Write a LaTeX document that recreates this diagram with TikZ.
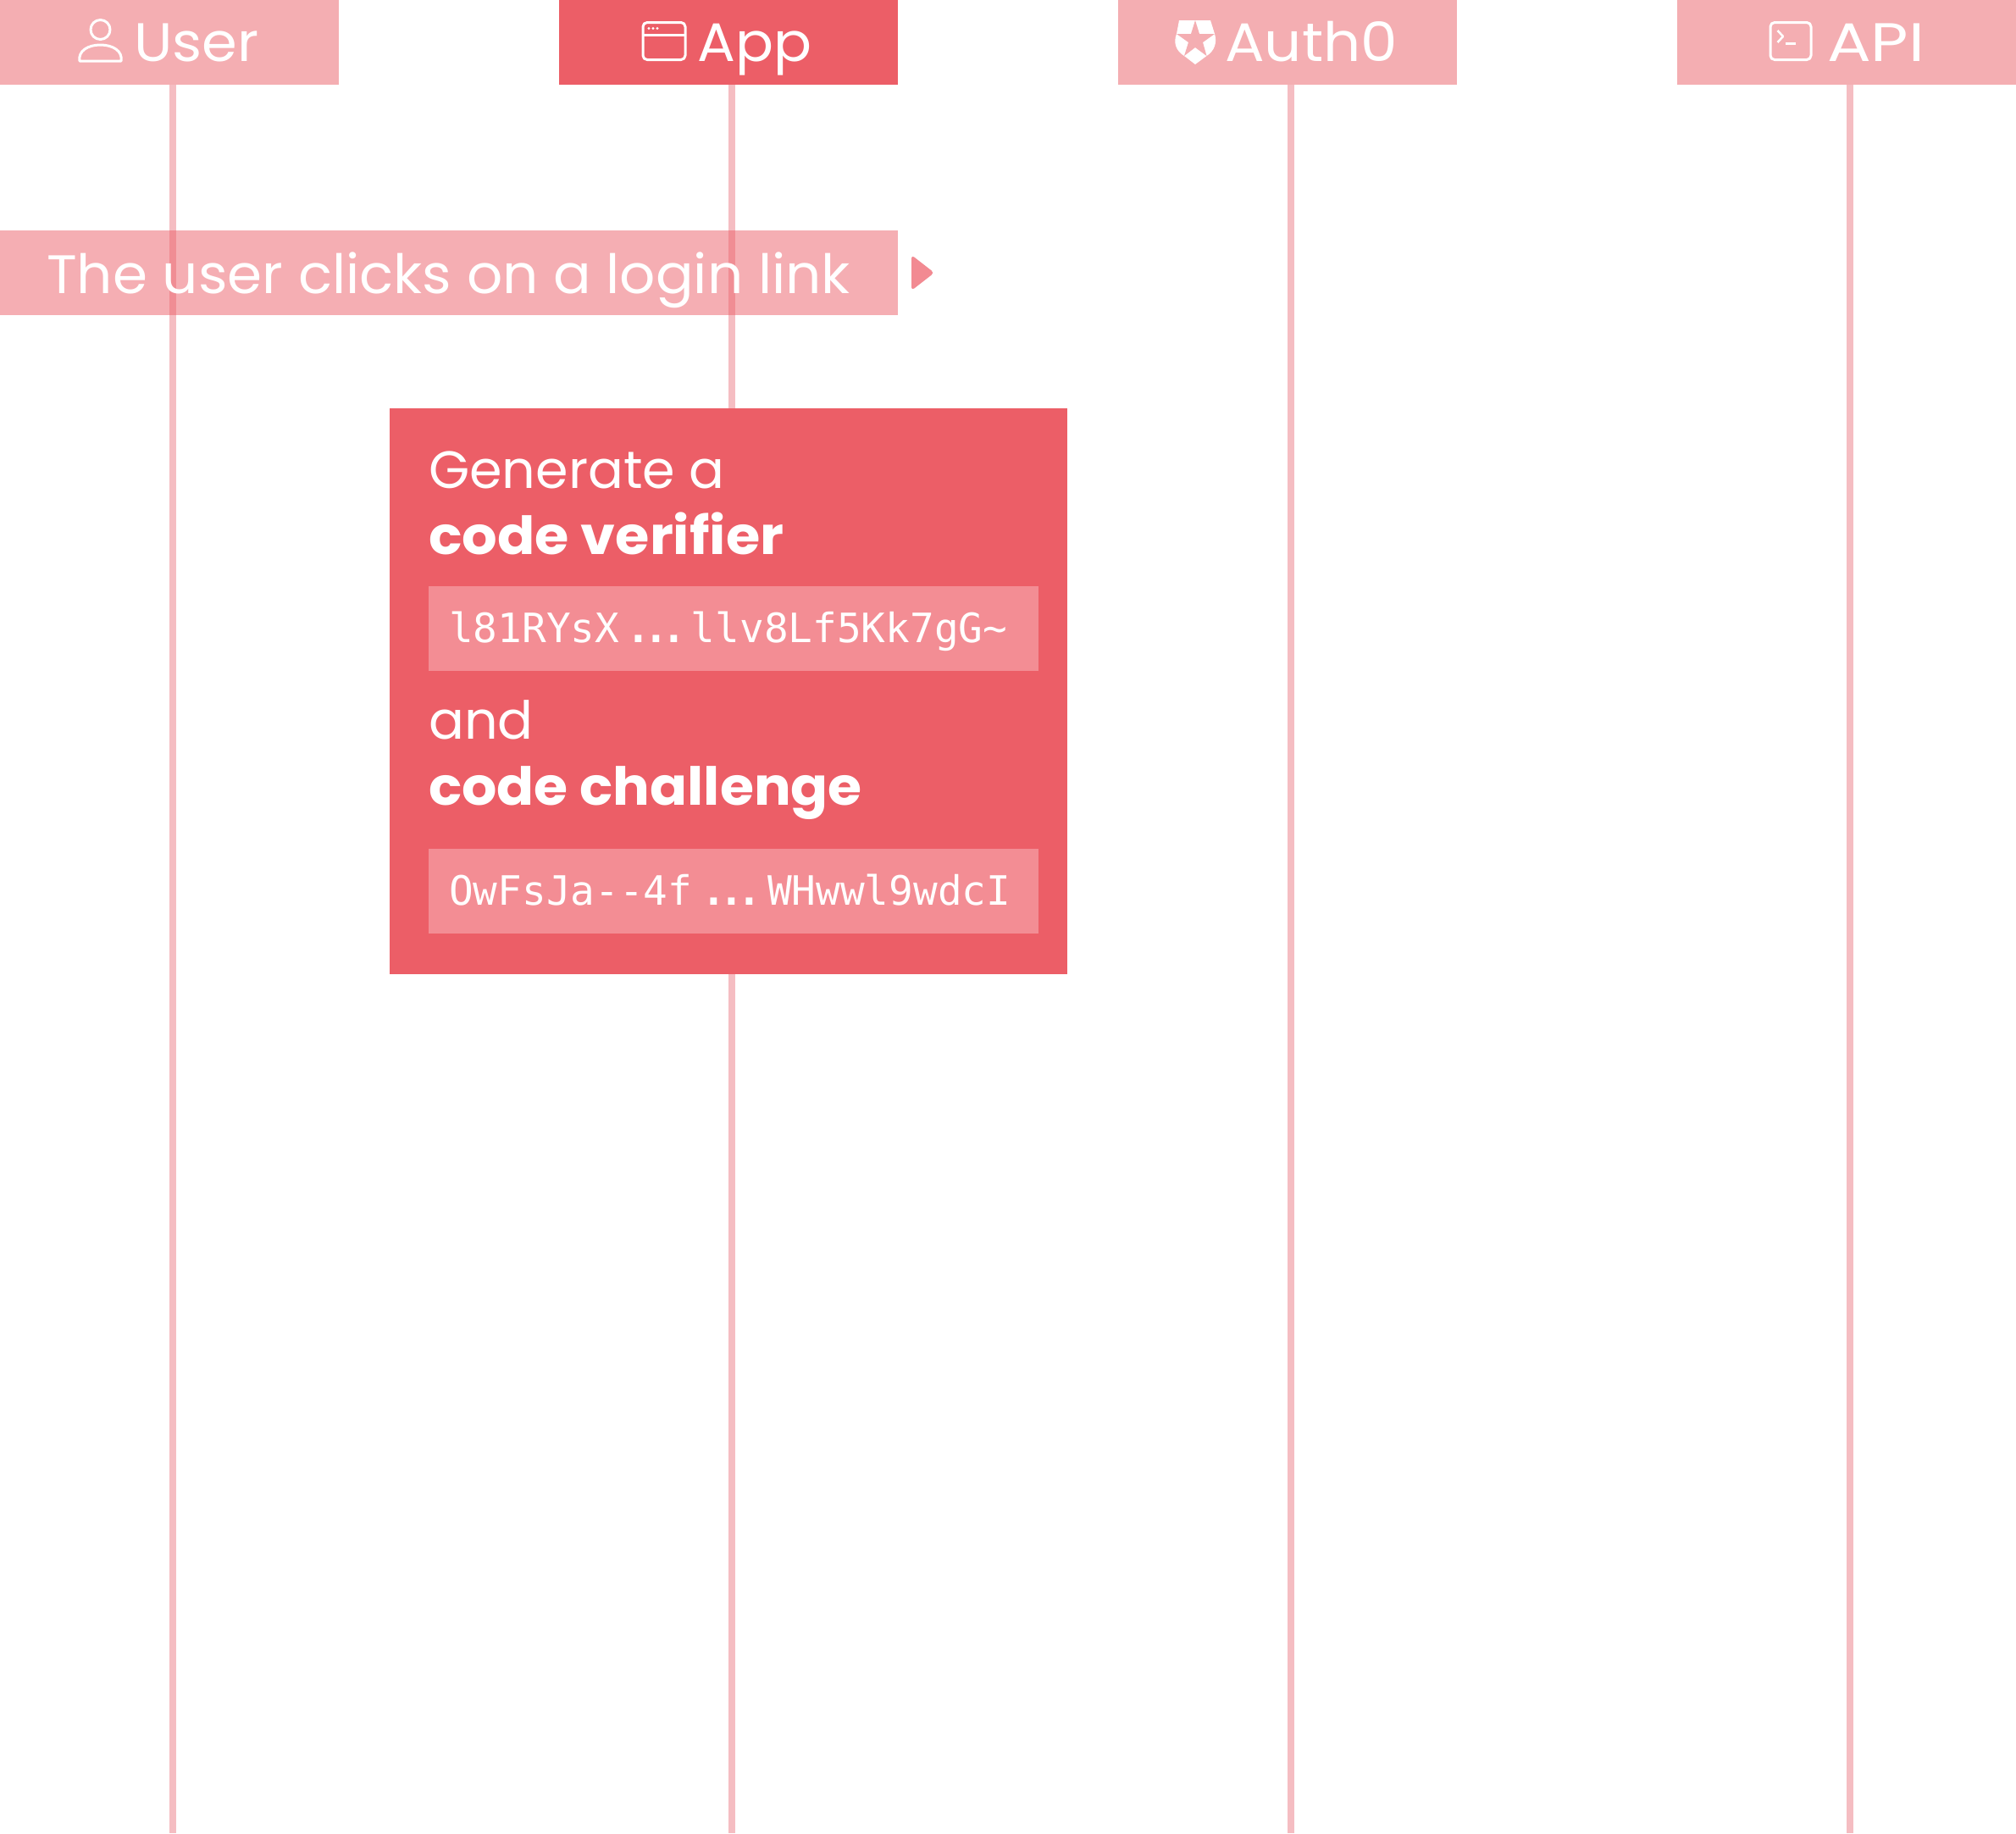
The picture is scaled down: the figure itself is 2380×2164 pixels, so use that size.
\documentclass[tikz,border=0pt]{standalone}
\usepackage{fontspec}
\usepackage{graphicx}
\setmainfont{Poppins}[BoldFont=* Bold]
\newfontfamily\codefont{DejaVu Sans Mono}
\newcommand{\sx}[2]{\scalebox{#1}[1]{#2}}
\newcommand{\dk}[1]{\kern#1pt}
\definecolor{darkred}{HTML}{EC5E67}
\definecolor{headlight}{HTML}{F4AEB2}
\definecolor{innerred}{HTML}{F38D94}
\definecolor{lifecol}{HTML}{F5BDC2}
\definecolor{tipcol}{HTML}{F28A92}
\tikzset{
  x=1pt,y=-1pt,
  headbox/.style={anchor=north west,inner sep=0,minimum width=400pt,minimum height=100pt,fill=headlight},
  headtext/.style={anchor=base west,inner sep=0,text=white,font=\fontsize{64}{70}\selectfont},
  lifeline/.style={draw=lifecol,line width=8pt},
  iconline/.style={draw=white,line width=3pt,line join=round},
  bodytext/.style={anchor=base west,inner sep=0,text=white,font=\fontsize{62}{70}\selectfont},
  codebox/.style={anchor=north west,inner sep=0,minimum width=720pt,minimum height=100pt,fill=innerred},
  codetext/.style={anchor=base west,inner sep=0,text=white,font=\codefont\fontsize{47.7}{50}\selectfont},
}
\begin{document}
\begin{tikzpicture}
\useasboundingbox (0,0) rectangle (2380,2164);
% headers
\node[headbox] (user) at (0,0) {};
\node[headbox,fill=darkred] (app) at (660,0) {};
\node[headbox] (auth) at (1320,0) {};
\node[headbox] (api) at (1980,0) {};
% lifeline ends
\coordinate (userend) at (204,2164);
\coordinate (append) at (864,2164);
\coordinate (authend) at (1524,2164);
\coordinate (apiend) at (2184,2164);
\draw[lifeline] (user.south -| userend) -- (userend);
\draw[lifeline] (app.south -| append) -- (append);
\draw[lifeline] (auth.south -| authend) -- (authend);
\draw[lifeline] (api.south -| apiend) -- (apiend);
% header labels
\node[headtext] (usertext) at (158,72) {\sx{1.05}{User}};
\node[headtext] (apptext) at (823,72) {\sx{1.04}{App}};
\node[headtext] (authtext) at (1446,72) {\sx{1.08}{Auth0}};
\node[headtext] (apitext) at (2157,72) {\sx{1.2}{API}};
% user icon
\draw[iconline] (118.5,35) circle (11.5);
\draw[iconline] (94,72) .. controls (92,60) and (104,53) .. (118.5,53) .. controls (133,53) and (145,60) .. (143,72) -- cycle;
% app icon
\draw[iconline,rounded corners=5pt] (759,26.5) rectangle (809,70.5);
\draw[iconline] (759,41) -- (809,41);
\fill[white] (766,33.5) circle (1.6) (771,33.5) circle (1.6) (776,33.5) circle (1.6);
% auth0 icon
\fill[white] (1392,24) -- (1429,24) -- (1434,40) .. controls (1437,50) and (1434,60) .. (1424.5,66) -- (1411,76) -- (1398,66) .. controls (1388,60) and (1385,50) .. (1389,40) -- cycle;
\fill[headlight] (1411,24) -- (1416,40) -- (1434,40) -- (1420,50) -- (1424.5,66) -- (1411,56) -- (1398,66) -- (1403,50) -- (1389,40) -- (1406,40) -- cycle;
% api icon
\draw[iconline,rounded corners=5pt] (2090,26.5) rectangle (2138,70.5);
\draw[draw=white,line width=2.5pt,line join=round] (2098.5,36) -- (2105,43) -- (2098.5,50);
\draw[draw=white,line width=3pt] (2108,51) -- (2120,51);
% message
\node[anchor=north west,inner sep=0,minimum width=1060pt,minimum height=100pt,fill=darkred,fill opacity=.5] (msg) at (0,272) {};
\node[headtext] (msgtext) at (55,346) {\sx{1.033}{The user clicks on a login link}};
\coordinate (tiptop) at (1076,301);
\coordinate (tipright) at (1103,322);
\coordinate (tipbot) at (1076,343);
\fill[tipcol,rounded corners=4pt] (tiptop) -- (tipright) -- (tipbot) -- cycle;
% note box
\node[anchor=north west,inner sep=0,minimum width=800pt,minimum height=668pt,fill=darkred] (note) at (460,482) {};
\node[bodytext] (gen) at (506,576) {Generate a};
\node[bodytext] (ver) at (506,654) {\sx{1.054}{\bfseries code verifier}};
\node[codebox] (vbox) at (506,692) {};
\node[codetext] (vcode) at (530,758) {l81RYsX\dk{8}{\bfseries .\dk{-7.7}.\dk{-7.7}.}\dk{6}llv8Lf5Kk7gG\textasciitilde};
\node[bodytext] (andt) at (506,872) {and};
\node[bodytext] (cha) at (506,950) {\sx{1.047}{\bfseries code challenge}};
\node[codebox] (cbox) at (506,1002) {};
\node[codetext] (ccode) at (530,1068) {OwFsJa--4f\dk{11}{\bfseries .\dk{-7.7}.\dk{-7.7}.}\dk{7}WHwwl9wdcI};
\end{tikzpicture}
\end{document}
